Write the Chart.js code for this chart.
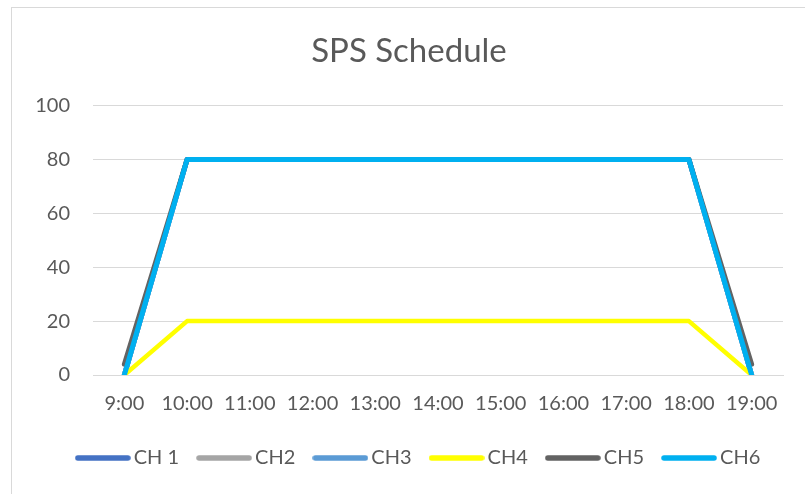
<!DOCTYPE html>
<html>
<head>
<meta charset="utf-8">
<script src="https://cdn.jsdelivr.net/npm/chart.js@4/dist/chart.umd.min.js"></script>
<style>
    html, body { margin: 0; padding: 0; background: #fff; overflow: hidden; }
    #frame {
        position: absolute; left: 11px; top: 7px;
        width: 800px; height: 494px;
        border: 1px solid #d9d9d9; background: #fff;
    }
    #wrap { position: absolute; left: 0; top: 0; width: 793px; height: 487px; }
</style>
</head>
<body>
<div id="frame"><div id="wrap"><canvas id="spsChart"></canvas></div></div>
<script>
const hours = ['9:00', '10:00', '11:00', '12:00', '13:00', '14:00', '15:00', '16:00', '17:00', '18:00', '19:00'];
const ch1 = [0, 80, 80, 80, 80, 80, 80, 80, 80, 80, 0];
const ch2 = [0, 80, 80, 80, 80, 80, 80, 80, 80, 80, 0];
const ch3 = [0, 80, 80, 80, 80, 80, 80, 80, 80, 80, 0];
const ch4 = [0, 20, 20, 20, 20, 20, 20, 20, 20, 20, 0];
const ch5 = [4, 80, 80, 80, 80, 80, 80, 80, 80, 80, 4];
const ch6 = [0, 80, 80, 80, 80, 80, 80, 80, 80, 80, 0];
const yTicks = [0, 20, 40, 60, 80, 100];

const seriesNames = ['CH 1', 'CH2', 'CH3', 'CH4', 'CH5', 'CH6'];
const seriesData = [ch1, ch2, ch3, ch4, ch5, ch6];
const seriesColors = ['#4472C4', '#A5A5A5', '#5B9BD5', '#FFFF00', '#636363', '#00B0F0'];

const textColor = '#595959';
const fontFamily = 'Lato, "Open Sans", sans-serif';

// legend swatch: a short rounded line, wider than the legend box so the label sits close to it
function swatch(color) {
    const c = document.createElement('canvas');
    c.width = 56;
    c.height = 8;
    const g = c.getContext('2d');
    g.strokeStyle = color;
    g.lineWidth = 5.5;
    g.lineCap = 'round';
    g.beginPath();
    g.moveTo(3, 4);
    g.lineTo(53, 4);
    g.stroke();
    return c;
}

// nudge the legend row to the right, like the original
const legendShift = {
    id: 'legendShift',
    afterLayout(chart) {
        chart.legend.left += 12;
        chart.legend.right += 12;
    }
};

const datasets = seriesNames.map((name, i) => ({
    label: name,
    data: seriesData[i],
    borderColor: seriesColors[i],
    backgroundColor: seriesColors[i],
    borderWidth: i === 3 ? 4.5 : 5,
    borderJoinStyle: 'round',
    borderCapStyle: 'round',
    pointRadius: 0,
    pointHoverRadius: 0,
    tension: 0,
    fill: false,
    order: seriesNames.length - i   // CH6 ends up on top
}));

new Chart(document.getElementById('spsChart'), {
    type: 'line',
    data: { labels: hours, datasets },
    plugins: [legendShift],
    options: {
        responsive: true,
        maintainAspectRatio: false,
        animation: false,
        layout: { padding: { left: 23, right: 22, top: 10, bottom: 17 } },
        plugins: {
            title: {
                display: true,
                text: 'SPS Schedule',
                color: textColor,
                font: { family: fontFamily, size: 33, weight: 'normal' },
                padding: { top: 14, bottom: 34 }
            },
            legend: {
                position: 'bottom',
                labels: {
                    color: textColor,
                    font: { family: fontFamily, size: 20 },
                    usePointStyle: true,
                    pointStyleWidth: 42,
                    padding: 24,
                    generateLabels: chart => chart.data.datasets.map((ds, i) => ({
                        text: ds.label,
                        fillStyle: ds.borderColor,
                        strokeStyle: ds.borderColor,
                        lineWidth: 0,
                        pointStyle: swatch(ds.borderColor),
                        fontColor: textColor,
                        hidden: !chart.isDatasetVisible(i),
                        datasetIndex: i
                    }))
                }
            },
            tooltip: { enabled: false }
        },
        scales: {
            x: {
                offset: true,
                grid: { display: false, drawTicks: false },
                border: { display: true, color: '#d9d9d9', width: 1 },
                ticks: {
                    color: textColor,
                    font: { family: fontFamily, size: 20 },
                    padding: 17,
                    maxRotation: 0,
                    autoSkip: false
                },
                afterFit: s => { s.height -= 9; }
            },
            y: {
                min: 0,
                max: 100,
                afterBuildTicks: axis => { axis.ticks = yTicks.map(v => ({ value: v })); },
                afterFit: s => { s.width = 58; },
                grid: { color: '#d9d9d9', lineWidth: 1, drawTicks: false },
                border: { display: false },
                ticks: {
                    color: textColor,
                    font: { family: fontFamily, size: 20 },
                    padding: 23
                }
            }
        }
    }
});
</script>
</body>
</html>
